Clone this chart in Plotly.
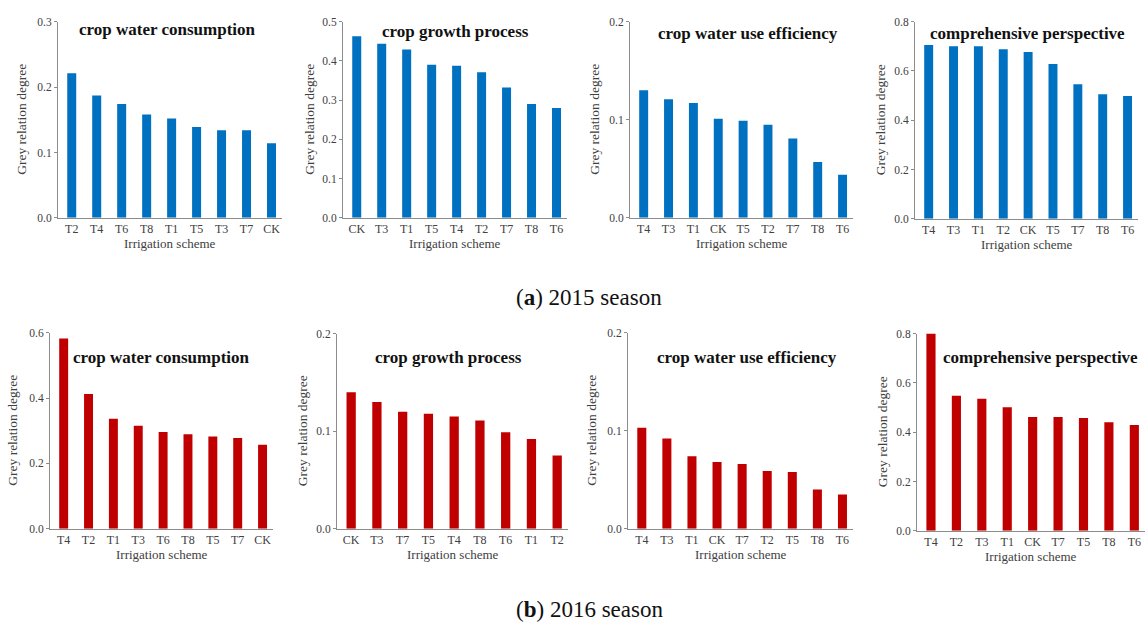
import plotly.graph_objects as go

W, H = 1145, 628

# ---- data ----
p1_cats = ["T2", "T4", "T6", "T8", "T1", "T5", "T3", "T7", "CK"]
p1_vals = [0.221, 0.187, 0.174, 0.158, 0.152, 0.139, 0.134, 0.134, 0.114]

p2_cats = ["CK", "T3", "T1", "T5", "T4", "T2", "T7", "T8", "T6"]
p2_vals = [0.463, 0.444, 0.429, 0.390, 0.388, 0.371, 0.332, 0.290, 0.280]

p3_cats = ["T4", "T3", "T1", "CK", "T5", "T2", "T7", "T8", "T6"]
p3_vals = [0.130, 0.121, 0.117, 0.101, 0.099, 0.095, 0.081, 0.057, 0.044]

p4_cats = ["T4", "T3", "T1", "T2", "CK", "T5", "T7", "T8", "T6"]
p4_vals = [0.705, 0.700, 0.700, 0.688, 0.677, 0.628, 0.546, 0.506, 0.498]

p5_cats = ["T4", "T2", "T1", "T3", "T6", "T8", "T5", "T7", "CK"]
p5_vals = [0.582, 0.412, 0.337, 0.315, 0.296, 0.289, 0.282, 0.278, 0.257]

p6_cats = ["CK", "T3", "T7", "T5", "T4", "T8", "T6", "T1", "T2"]
p6_vals = [0.140, 0.130, 0.120, 0.118, 0.115, 0.111, 0.099, 0.092, 0.075]

p7_cats = ["T4", "T3", "T1", "CK", "T7", "T2", "T5", "T8", "T6"]
p7_vals = [0.103, 0.092, 0.074, 0.068, 0.066, 0.059, 0.058, 0.040, 0.035]

p8_cats = ["T4", "T2", "T3", "T1", "CK", "T7", "T5", "T8", "T6"]
p8_vals = [0.800, 0.548, 0.536, 0.501, 0.462, 0.462, 0.458, 0.440, 0.429]

panel_titles = ["crop water consumption", "crop growth process",
                "crop water use efficiency", "comprehensive perspective"]
y_maxes = [0.3, 0.5, 0.2, 0.8, 0.6, 0.2, 0.2, 0.8]
y_dticks = [0.1, 0.1, 0.1, 0.2, 0.2, 0.1, 0.1, 0.2]
captions = ["(<b>a</b>) 2015 season", "(<b>b</b>) 2016 season"]
x_title = "Irrigation scheme"
y_title = "Grey relation degree"

BLUE = "#0070C0"
RED = "#C00000"

panels = [
    (p1_cats, p1_vals), (p2_cats, p2_vals), (p3_cats, p3_vals), (p4_cats, p4_vals),
    (p5_cats, p5_vals), (p6_cats, p6_vals), (p7_cats, p7_vals), (p8_cats, p8_vals),
]

# layout geometry in pixels: (x_left, x_right, y_top, y_bottom)
geom = [
    (58, 282, 16, 216), (343, 567, 16, 216), (630, 853, 16, 216), (915, 1138, 16, 217),
    (50, 273, 333, 533), (337, 568, 334, 533), (628, 853, 333, 533), (917, 1145, 334, 535),
]
title_pos = [(168, 24), (455, 26), (748, 28), (1027, 28),
             (161, 358), (448, 358), (747, 358), (1040, 358)]
ytitle_x = [22, 310, 595, 880, 13, 302, 592, 882]

SERIF = "Liberation Serif, Times New Roman, serif"

fig = go.Figure()
annotations = []
for i, ((cats, vals), (xl, xr, yt, yb)) in enumerate(zip(panels, geom)):
    n = i + 1
    color = BLUE if i < 4 else RED
    fig.add_trace(go.Bar(
        x=cats, y=vals, marker=dict(color=color, line=dict(width=0)),
        width=0.36, xaxis=f"x{n}", yaxis=f"y{n}", showlegend=False,
    ))
    xa = dict(
        domain=[xl / W, xr / W], anchor=f"y{n}", type="category",
        range=[-0.55, 8.42], showline=True, linecolor="#8c8c8c", linewidth=1,
        showgrid=False, ticks="", zeroline=False,
        tickfont=dict(family=SERIF, size=12, color="#404040"),
        categoryorder="array", categoryarray=cats, fixedrange=True,
    )
    ya = dict(
        domain=[1 - yb / H, 1 - yt / H], anchor=f"x{n}",
        range=[0, y_maxes[i]], dtick=y_dticks[i], tick0=0, tickformat=".1f",
        showline=True, linecolor="#8c8c8c", linewidth=1,
        showgrid=False, zeroline=False, ticks="outside", ticklen=3,
        tickcolor="#8c8c8c",
        tickfont=dict(family=SERIF, size=11.5, color="#404040"),
        fixedrange=True,
    )
    fig.update_layout(**{f"xaxis{n}": xa, f"yaxis{n}": ya})

    tx, ty = title_pos[i]
    annotations.append(dict(
        x=tx / W, y=1 - ty / H, xref="paper", yref="paper",
        text=f"<b>{panel_titles[i % 4]}</b>", showarrow=False,
        font=dict(family=SERIF, size=17, color="#111111"),
        xanchor="center", yanchor="middle",
    ))
    annotations.append(dict(
        x=(xl + xr) / 2 / W, y=1 - (yb + 26) / H, xref="paper", yref="paper",
        text=x_title, showarrow=False,
        font=dict(family=SERIF, size=13, color="#404040"),
        xanchor="center", yanchor="middle",
    ))
    annotations.append(dict(
        x=ytitle_x[i] / W, y=1 - ((yt + yb) / 2) / H, xref="paper", yref="paper",
        text=y_title, showarrow=False, textangle=-90,
        font=dict(family=SERIF, size=13.5, color="#404040"),
        xanchor="center", yanchor="middle",
    ))

annotations.append(dict(
    x=589 / W, y=1 - 297 / H, xref="paper", yref="paper",
    text=captions[0], showarrow=False,
    font=dict(family=SERIF, size=23, color="#111111"),
    xanchor="center", yanchor="middle",
))
annotations.append(dict(
    x=589 / W, y=1 - 615 / H, xref="paper", yref="paper",
    text=captions[1], showarrow=False,
    font=dict(family=SERIF, size=23, color="#111111"),
    xanchor="center", yanchor="middle",
))

fig.update_layout(
    width=W, height=H,
    margin=dict(l=0, r=0, t=0, b=0),
    paper_bgcolor="white", plot_bgcolor="white",
    annotations=annotations, bargap=0.64,
)

fig.write_html(
    "out.html",
    config={"displayModeBar": False},
    post_script="document.body.style.margin='0px';document.body.style.overflow='hidden';",
)
